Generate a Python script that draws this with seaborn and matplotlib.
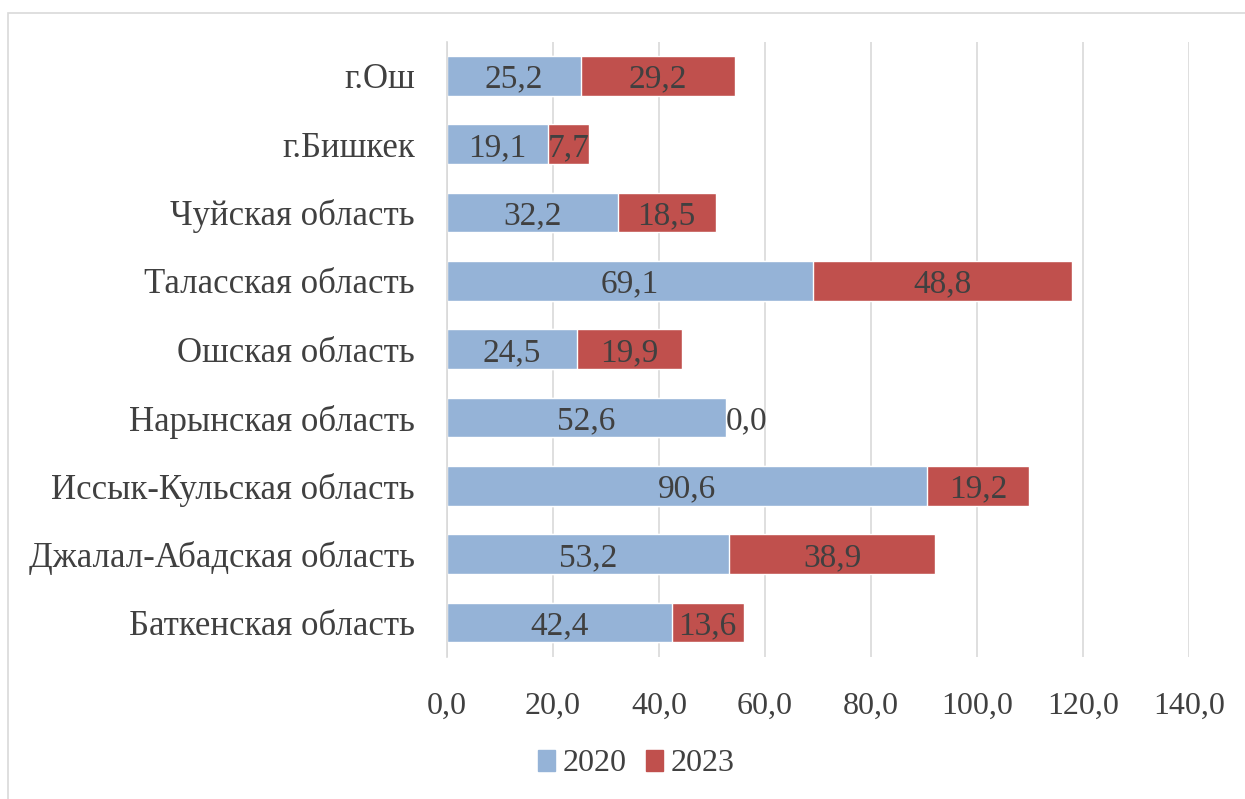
# Stacked horizontal bars: 2020 vs 2023 by region

import matplotlib
matplotlib.use("Agg")
import numpy as np
import pandas as pd
import seaborn as sns
import matplotlib.pyplot as plt
from matplotlib.patches import Patch, Rectangle


# Data ........................................................................

regions = ["г.Ош", "г.Бишкек", "Чуйская область", "Таласская область",
           "Ошская область", "Нарынская область", "Иссык-Кульская область",
           "Джалал-Абадская область", "Баткенская область"]
values_2020 = [25.2, 19.1, 32.2, 69.1, 24.5, 52.6, 90.6, 53.2, 42.4]
values_2023 = [29.2, 7.7, 18.5, 48.8, 19.9, 0.0, 19.2, 38.9, 13.6]
x_ticks = [0, 20, 40, 60, 80, 100, 120, 140]

df = pd.DataFrame({"region": regions, "v2020": values_2020, "v2023": values_2023})
df["total"] = df["v2020"] + df["v2023"]

blue = "#95B3D7"
red = "#C0504D"
text_col = "#404040"


# Plot ........................................................................

sns.set_style("white")
plt.rcParams["font.family"] = ["Liberation Serif", "DejaVu Serif"]

fig = plt.figure(figsize = (12.45, 7.99), dpi = 100)
ax = fig.add_axes([0.359, 0.178, 0.596, 0.770])

# red drawn as total, blue on top of it -> stacked look
sns.barplot(data = df, x = "total", y = "region", order = regions, color = red,
            width = 0.58, saturation = 1, ax = ax, orient = "h")
sns.barplot(data = df, x = "v2020", y = "region", order = regions, color = blue,
            width = 0.58, saturation = 1, ax = ax, orient = "h")

def fmt(v):
    return f"{v:.1f}".replace(".", ",")

lab_size = 24
for i, (a, b) in enumerate(zip(values_2020, values_2023)):
    ax.text(a / 2, i, fmt(a), ha = "center", va = "center_baseline",
            fontsize = lab_size, color = text_col)
    if b == 0:
        ax.text(a, i, fmt(b), ha = "left", va = "center_baseline",
                fontsize = lab_size, color = text_col)
    else:
        ax.text(a + b / 2, i, fmt(b), ha = "center", va = "center_baseline",
                fontsize = lab_size, color = text_col)

ax.set_xlim(0, 140)
ax.set_xticks(x_ticks)
ax.set_xticklabels([fmt(t) for t in x_ticks])
ax.set_ylim(8.5, -0.5)
ax.grid(axis = "x", color = "#d9d9d9", linewidth = 1.2)
ax.set_axisbelow(True)
for s in ["top", "right", "bottom"]:
    ax.spines[s].set_visible(False)
ax.spines["left"].set_color("#d9d9d9")
ax.spines["left"].set_linewidth(1.2)
ax.tick_params(axis = "x", length = 0, pad = 25, labelsize = 23, labelcolor = text_col)
ax.tick_params(axis = "y", length = 0, pad = 23, labelsize = 25, labelcolor = text_col)
ax.set_xlabel("")
ax.set_ylabel("")

handles = [Patch(color = blue, label = "2020"), Patch(color = red, label = "2023")]
fig.legend(handles = handles, loc = "center", bbox_to_anchor = (0.511, 0.044), ncol = 2,
           frameon = False, fontsize = 23, handlelength = 0.53, handleheight = 0.63,
           handletextpad = 0.25, columnspacing = 0.6, labelcolor = text_col)

# chart border
fig.patches.append(Rectangle((0.0065, -0.1), 1.1, 1.084, transform = fig.transFigure,
                             fill = False, edgecolor = "#d9d9d9", linewidth = 1.2))

plt.savefig("out.png", dpi = 100)
